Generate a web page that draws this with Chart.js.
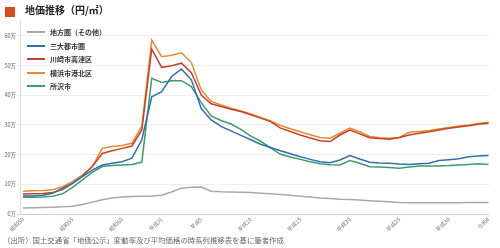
<!DOCTYPE html>
<html><head><meta charset="utf-8">
<script src="https://cdn.jsdelivr.net/npm/chart.js@4/dist/chart.umd.min.js"></script>
<style>
html,body{margin:0;padding:0;background:#fff;}
#wrap{position:relative;width:500px;height:248px;overflow:hidden;font-family:'Noto Sans CJK JP','Noto Sans',sans-serif;}
#c{position:absolute;left:0;top:0;}
#title{position:absolute;left:25px;top:3px;font-size:10px;font-weight:bold;color:#222;line-height:14px;white-space:nowrap;}
#sq{position:absolute;left:5px;top:7px;width:10px;height:10px;background:#d84a1b;}
#src{position:absolute;left:3px;top:234px;font-size:7.4px;color:#666;line-height:12px;white-space:nowrap;}
.lg{position:absolute;left:27px;height:12px;white-space:nowrap;}
.lg i{position:absolute;left:0;top:5px;width:18px;height:2px;}
.lg span{position:absolute;left:23px;top:0;font-size:7px;font-weight:600;color:#333;line-height:12px;}
</style></head>
<body><div id="wrap">
<canvas id="c" width="500" height="248"></canvas>
<div id="sq"></div><div id="title">地価推移（円/㎡）</div>
<div id="legend"></div>
<div id="src">（出所）国土交通省「地価公示」変動率及び平均価格の時系列推移表を基に筆者作成</div>
</div>
<script>
const years = [1975,1976,1977,1978,1979,1980,1981,1982,1983,1984,1985,1986,1987,1988,1989,1990,1991,1992,1993,1994,1995,1996,1997,1998,1999,2000,2001,2002,2003,2004,2005,2006,2007,2008,2009,2010,2011,2012,2013,2014,2015,2016,2017,2018,2019,2020,2021,2022];
const tickYears = [1975,1980,1985,1989,1993,1998,2003,2008,2013,2018,2022];
const tickLabels = ['昭和50','昭和55','昭和60','平成元','平成5','平成10','平成15','平成20','平成25','平成30','令和4'];
const seriesNames = ['地方圏（その他）','三大都市圏','川崎市高津区','横浜市港北区','所沢市'];
const chiho = [2.0,2.1,2.2,2.3,2.4,2.6,3.2,4.0,4.8,5.4,5.7,5.9,6.0,6.1,6.3,7.4,8.7,9.0,9.1,7.7,7.5,7.4,7.3,7.2,7.0,6.8,6.6,6.3,6.0,5.7,5.4,5.2,5.0,4.9,4.7,4.5,4.3,4.1,3.9,3.8,3.8,3.8,3.8,3.8,3.8,3.9,3.9,3.9];
const sandai = [6.1,6.1,6.3,7.0,8.7,10.3,12.6,14.8,16.5,17.1,17.6,18.8,25.0,39.5,41.2,46.3,48.8,45.2,35.5,31.7,29.5,28.0,26.5,25.0,23.5,22.4,21.3,20.3,19.3,18.4,17.6,17.3,18.2,19.7,18.5,17.4,17.2,17.1,16.8,16.7,16.9,17.1,18.0,18.3,18.6,19.3,19.5,19.7];
const kawasaki = [6.7,6.8,6.9,7.2,8.2,10.3,12.8,16.0,20.4,21.3,22.1,22.9,28.3,55.5,49.4,49.9,50.8,47.6,40.1,37.1,36.2,35.3,34.5,33.4,32.3,31.1,28.9,27.8,26.6,25.6,24.7,24.4,26.6,28.3,27.0,25.7,25.4,25.2,25.8,26.6,27.2,27.7,28.3,28.9,29.3,29.7,30.2,30.6];
const yokohama = [7.7,7.8,7.9,8.2,9.2,10.9,13.1,16.0,22.1,22.7,23.1,23.8,29.5,58.6,53.0,53.5,54.3,51.0,41.8,37.9,36.7,35.6,34.7,33.7,32.5,31.3,29.8,28.7,27.7,26.7,25.8,25.5,27.2,28.9,27.7,26.1,25.7,25.5,25.8,27.5,27.8,28.1,28.6,29.1,29.6,30.0,30.5,30.9];
const tokorozawa = [5.6,5.6,5.7,6.0,6.8,9.0,11.5,14.0,16.0,16.3,16.5,16.7,17.5,45.7,44.3,44.9,44.9,42.9,37.5,33.0,31.5,30.3,28.5,26.2,24.5,22.3,20.1,19.2,18.4,17.6,16.9,16.6,16.5,18.0,17.1,15.9,15.8,15.7,15.4,15.8,16.2,16.2,16.2,16.3,16.5,16.7,16.9,16.7];
const colors = ['#a8a8a8','#2f6fb3','#c9402a','#e8892f','#3c9e6b'];
const allSeries = [chiho, sandai, kawasaki, yokohama, tokorozawa];

const lg = document.getElementById('legend');
const legendTops = [26, 39.5, 53, 66.5, 80];
seriesNames.forEach((n,i)=>{
  const d = document.createElement('div');
  d.className='lg'; d.style.top = legendTops[i]+'px';
  d.innerHTML = '<i style="background:'+colors[i]+'"></i><span>'+n+'</span>';
  lg.appendChild(d);
});

const datasets = allSeries.map((s,i)=>({
  label: seriesNames[i],
  data: years.map((y,j)=>({x:y, y:s[j]})),
  borderColor: colors[i],
  backgroundColor: colors[i],
  borderWidth: 1.5,
  pointRadius: 0,
  tension: 0,
  fill: false
}));

new Chart(document.getElementById('c'), {
  type: 'line',
  data: { datasets },
  options: {
    responsive: false,
    animation: false,
    devicePixelRatio: 1,
    layout: { padding: { top: 21, right: 11, bottom: 16, left: 0 } },
    plugins: { legend: { display: false }, tooltip: { enabled: false }, title: { display: false } },
    scales: {
      x: {
        type: 'linear',
        min: 1974.7, max: 2022.05,
        grid: { display: false, drawTicks: false, tickLength: 0 },
        border: { display: false },
        afterBuildTicks: (ax) => { ax.ticks = tickYears.map(v => ({ value: v })); },
        afterFit: (ax) => { ax.height = 18; },
        ticks: {
          autoSkip: false, minRotation: 45, maxRotation: 45, padding: 2,
          font: { size: 5.5, family: "'Noto Sans CJK JP'" }, color: '#777',
          callback: function(v) { const k = tickYears.indexOf(v); return k >= 0 ? tickLabels[k] : ''; }
        }
      },
      y: {
        min: 0, max: 65,
        afterBuildTicks: (ax) => { ax.ticks = ax.ticks.filter(t => t.value % 10 === 0); },
        afterFit: (ax) => { ax.width = 20; },
        grid: { color: (ctx) => ctx.tick && ctx.tick.value === 0 ? '#cfcfcf' : '#eeeeee', lineWidth: 1, tickLength: 3 },
        border: { display: true, color: '#dddddd' },
        ticks: {
          stepSize: 10, padding: 1,
          font: { size: 5.5, family: "'Noto Sans CJK JP'" }, color: '#666',
          callback: (v) => v + '万'
        }
      }
    }
  }
});
</script>
</body></html>
